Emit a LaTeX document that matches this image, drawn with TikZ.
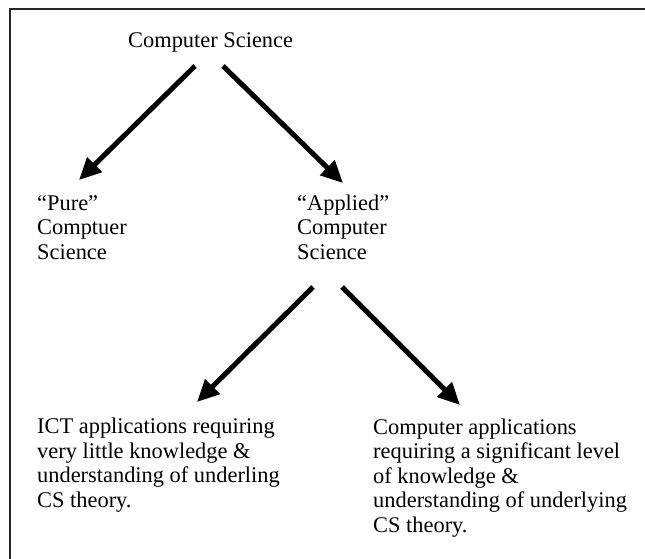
\documentclass[tikz,border=0pt]{standalone}
\usepackage{fontspec}
\setmainfont{Liberation Serif}
\usepackage{tikz}
\usetikzlibrary{arrows.meta}

\begin{document}
\begin{tikzpicture}[x=1pt, y=-1pt,
  every node/.style={inner sep=0pt, anchor=base west, align=left,
    font=\fontsize{22.4}{24.5}\selectfont},
  arr/.style={line width=5pt, -{Triangle[length=22pt, width=20pt]}}]
  \useasboundingbox (0,0) rectangle (645,559);
  \draw[line width=1.6pt, black!85] (10,570) -- (10,9) -- (660,9);
  % multi-line nodes sit on the baseline of their last line
  \node (cs) at (128,48) {Computer Science};
  \node (pure) at (37,259) {``Pure''\\Comptuer\\Science};
  \node (appl) at (297,259) {``Applied''\\Computer\\Science};
  \node (ict) at (37,507) {ICT applications requiring\\very little knowledge \&\\understanding of underling\\CS theory.};
  \node (capp) at (373,532) {Computer applications\\requiring a significant level\\of knowledge \&\\understanding of underlying\\CS theory.};
  \coordinate (cs-l) at (195,66);
  \coordinate (cs-r) at (223,66);
  \coordinate (pure-in) at (79,180);
  \coordinate (appl-in) at (343,183);
  \coordinate (appl-l) at (313,287);
  \coordinate (appl-r) at (342,287);
  \coordinate (ict-in) at (197,402);
  \coordinate (capp-in) at (460,405);
  \draw[arr] (cs-l) -- (pure-in);
  \draw[arr] (cs-r) -- (appl-in);
  \draw[arr] (appl-l) -- (ict-in);
  \draw[arr] (appl-r) -- (capp-in);
\end{tikzpicture}
\end{document}
